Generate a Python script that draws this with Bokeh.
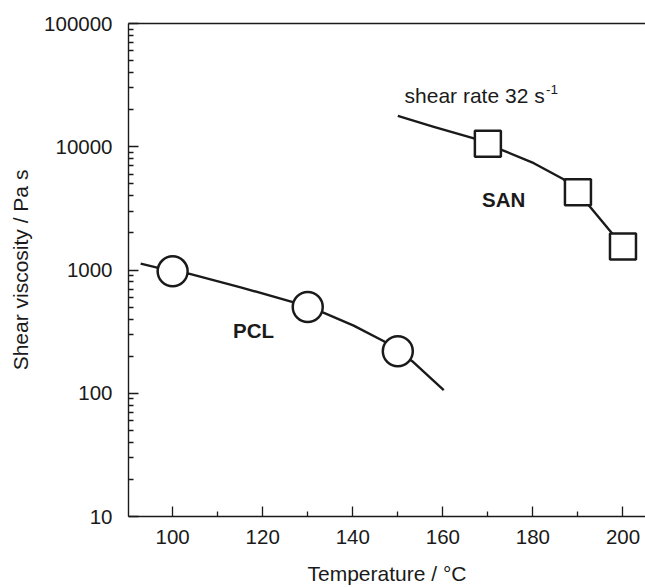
from bokeh.plotting import figure
from bokeh.models import FixedTicker, PrintfTickFormatter, LinearAxis, Range1d
from bokeh.core.properties import value
from bokeh.embed import file_html
from bokeh.resources import INLINE

# ---- data ----
pcl_T = [100, 130, 150]
pcl_eta = [975, 501, 219]
pcl_curve_T = [92.9, 100, 103.6, 115.1, 126.9, 130, 133.6, 140.2, 146.9, 150, 153.2, 160.2]
pcl_curve_eta = [1125, 975, 933, 723, 547, 501, 449, 354, 264, 219, 182, 106]

san_T = [170, 190, 200]
san_eta = [10600, 4275, 1550]
san_curve_T = [150, 158, 166.9, 170, 173.2, 180.2, 186.8, 190, 200]
san_curve_eta = [17800, 14500, 11700, 10600, 9400, 7350, 5450, 4275, 1550]

x_ticks = [100, 120, 140, 160, 180, 200]
x_minor = [110, 130, 150, 170, 190]
y_ticks = [10, 100, 1000, 10000, 100000]
y_minor = [m * d for d in [10, 100, 1000, 10000] for m in range(2, 10)]

FONT = "Liberation Sans"
INK = "#1a1a1a"

p = figure(width=645, height=587, y_axis_type="log",
           x_range=Range1d(90.2, 205.0), y_range=Range1d(10, 100000),
           output_backend="svg", toolbar_location=None,
           min_border_left=128, min_border_right=0, min_border_top=23,
           min_border_bottom=69)
p.outline_line_color = None
p.grid.visible = False
p.background_fill_color = "white"
p.border_fill_color = "white"

# curves
p.line(pcl_curve_T, pcl_curve_eta, line_color=INK, line_width=2.4, line_join="round")
p.line(san_curve_T, san_curve_eta, line_color=INK, line_width=2.4, line_join="round")

# markers
p.scatter(pcl_T, pcl_eta, marker="circle", size=30, fill_color="white",
          line_color=INK, line_width=2.5)
p.scatter(san_T, san_eta, marker="square", size=26, fill_color="white",
          line_color=INK, line_width=2.5)

# annotations
p.text(x=[151.5], y=[26100], text=["shear rate 32 s"], text_font=value(FONT),
       text_font_size="21px", text_color=INK, text_baseline="alphabetic", text_align="left")
p.text(x=[182.9], y=[29200], text=["-1"], text_font=value(FONT),
       text_font_size="13.5px", text_color=INK, text_baseline="alphabetic", text_align="left")
p.text(x=[168.7], y=[3757], text=["SAN"], text_font=value(FONT), text_font_style="bold",
       text_font_size="20.5px", text_color=INK, text_baseline="alphabetic", text_align="left")
p.text(x=[113.4], y=[323], text=["PCL"], text_font=value(FONT), text_font_style="bold",
       text_font_size="20.5px", text_color=INK, text_baseline="alphabetic", text_align="left")

# axes
for ax in [p.xaxis[0], p.yaxis[0]]:
    ax.axis_line_color = INK
    ax.axis_line_width = 1.4
    ax.major_tick_line_color = INK
    ax.minor_tick_line_color = INK
    ax.major_tick_line_width = 1.3
    ax.minor_tick_line_width = 1.3
    ax.major_tick_in = 10
    ax.major_tick_out = 0
    ax.minor_tick_in = 5
    ax.minor_tick_out = 0
    ax.major_label_text_font = FONT
    ax.major_label_text_font_size = "20.5px"
    ax.major_label_text_color = INK
    ax.axis_label_text_font = FONT
    ax.axis_label_text_font_size = "21px"
    ax.axis_label_text_font_style = "normal"
    ax.axis_label_text_color = INK

p.xaxis[0].ticker = FixedTicker(ticks=x_ticks, minor_ticks=x_minor)
p.yaxis[0].ticker = FixedTicker(ticks=y_ticks, minor_ticks=y_minor)
p.yaxis[0].formatter = PrintfTickFormatter(format="%d")
p.xaxis[0].axis_label = "Temperature / °C"
p.yaxis[0].axis_label = "Shear viscosity / Pa s"
p.xaxis[0].major_label_standoff = 13
p.xaxis[0].axis_label_standoff = 15
p.yaxis[0].major_label_standoff = 16
p.yaxis[0].axis_label_standoff = 9

top = LinearAxis(ticker=FixedTicker(ticks=[]), major_label_text_font_size="0px",
                 axis_line_color=INK, axis_line_width=1.4,
                 major_tick_line_color=None, minor_tick_line_color=None)
p.add_layout(top, "above")

open("out.html", "w").write(file_html(p, INLINE))
